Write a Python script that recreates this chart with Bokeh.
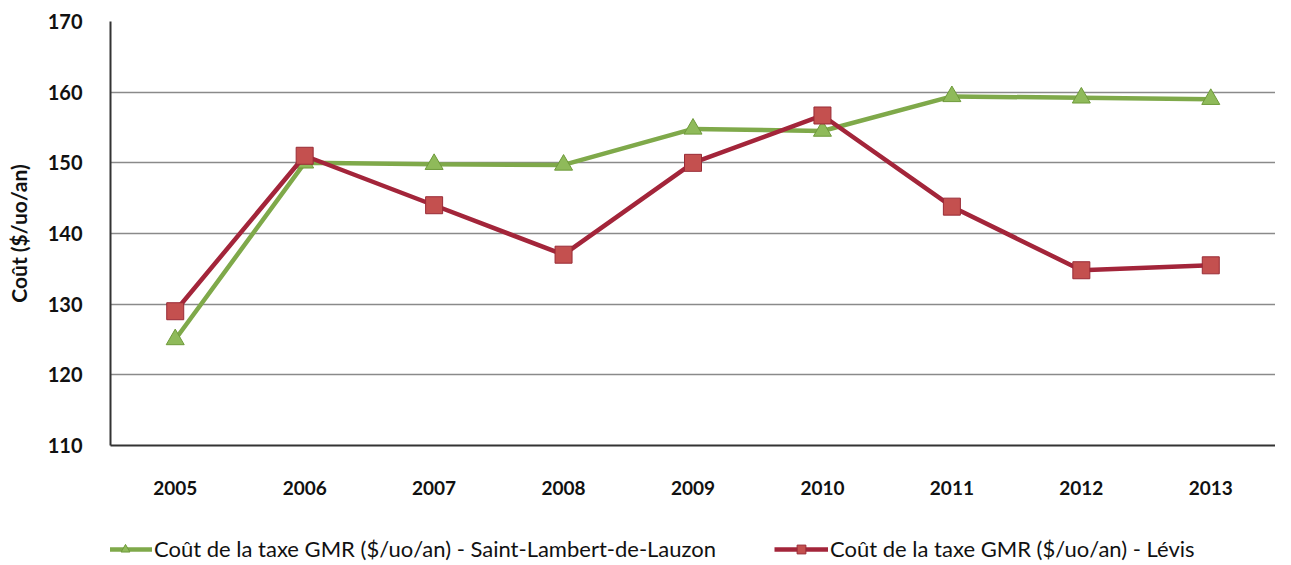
from bokeh.plotting import figure
from bokeh.models import Legend, LegendItem, FactorRange, Range1d, SingleIntervalTicker
from bokeh.layouts import column
from bokeh.embed import file_html
from bokeh.resources import INLINE

years = ["2005", "2006", "2007", "2008", "2009", "2010", "2011", "2012", "2013"]
saint_lambert = [125, 150, 149.8, 149.7, 154.8, 154.5, 159.4, 159.2, 159.0]
levis = [129, 151, 144, 137, 150, 156.7, 143.8, 134.8, 135.5]
y_label = "Coût ($/uo/an)"
label_sl = "Coût de la taxe GMR ($/uo/an) - Saint-Lambert-de-Lauzon"
label_lv = "Coût de la taxe GMR ($/uo/an) - Lévis"

FONT = "Lato"

green_line = "#7fa94a"
green_fill = "#8fba5a"
green_edge = "#6e9a3a"
red_line = "#a3253a"
red_fill = "#c4504f"
red_edge = "#992b36"

p = figure(width=1275, height=504, x_range=FactorRange(factors=years),
           y_range=Range1d(110, 170), output_backend="svg", toolbar_location=None,
           min_border_left=110, min_border_right=0, min_border_top=21, min_border_bottom=59)
p.outline_line_color = None

p.line(years, saint_lambert, line_color=green_line, line_width=4.5)
p.scatter(years, saint_lambert, marker="triangle", size=18, fill_color=green_fill,
          line_color=green_edge, line_width=1)
p.line(years, levis, line_color=red_line, line_width=4.5)
p.scatter(years, levis, marker="square", size=17, fill_color=red_fill,
          line_color=red_edge, line_width=1)

p.yaxis.ticker = SingleIntervalTicker(interval=10)
p.ygrid.grid_line_color = "#8a8a8a"
p.ygrid.grid_line_width = 1.5
p.xgrid.grid_line_color = None

for ax in (p.xaxis[0], p.yaxis[0]):
    ax.axis_line_color = "#333333"
    ax.axis_line_width = 2
    ax.major_tick_line_color = None
    ax.minor_tick_line_color = None
    ax.major_label_text_font = FONT
    ax.major_label_text_font_style = "bold"
    ax.major_label_text_color = "#111111"
p.yaxis.major_label_text_font_size = "20px"
p.xaxis.major_label_text_font_size = "19px"

p.yaxis.major_label_standoff = 22
p.xaxis.major_label_standoff = 29
p.yaxis.axis_label = y_label
p.yaxis.axis_label_text_font = FONT
p.yaxis.axis_label_text_font_size = "21px"
p.yaxis.axis_label_text_font_style = "bold"
p.yaxis.axis_label_text_color = "#111111"
p.yaxis.axis_label_standoff = 14

# legend strip (its frame is aligned with the main frame by the column layout)
lg = figure(width=1275, height=58, x_range=Range1d(0, 1), y_range=Range1d(0, 1),
            output_backend="svg", toolbar_location=None,
            min_border_left=110, min_border_right=0, min_border_top=0, min_border_bottom=0)
lg.axis.visible = False
lg.grid.visible = False
lg.outline_line_color = None
hidden = dict(x=[-5], y=[-5])
g1 = lg.line(**hidden, line_color=green_line, line_width=4.5)
g2 = lg.scatter(**hidden, marker="triangle", size=16, fill_color=green_fill,
                line_color=green_edge, line_width=1)
r1 = lg.line(**hidden, line_color=red_line, line_width=4.5)
r2 = lg.scatter(**hidden, marker="square", size=16, fill_color=red_fill,
                line_color=red_edge, line_width=1)
legend = Legend(items=[LegendItem(label=label_sl, renderers=[g1, g2]),
                       LegendItem(label=label_lv, renderers=[r1, r2])],
                orientation="horizontal", location=(-12, 0),
                label_text_font=FONT, label_text_font_size="22px",
                label_text_color="#111111", glyph_width=54, glyph_height=22,
                label_standoff=2, spacing=58, border_line_color=None,
                background_fill_alpha=0, margin=0, padding=0)
lg.add_layout(legend, "center")

layout = column(p, lg, spacing=0)
open("out.html", "w").write(file_html(layout, INLINE))
